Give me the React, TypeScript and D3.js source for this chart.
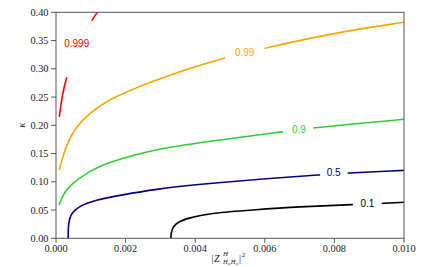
import React from 'react';
import * as d3 from 'd3';

// contour levels, drawn from the outermost to the innermost
const levels = ['0.999', '0.99', '0.9', '0.5', '0.1'];
const colors = ['red', 'orange', 'limegreen', 'navy', 'black'];

// points: x = |Z|^2, y = kappa
const xs999 = [0.000095, 0.00031, 0.00103, 0.00119];
const ys999 = [0.215, 0.285, 0.385, 0.4];

const xs99 = [0.000095, 0.000287, 0.000575, 0.000957, 0.001437, 0.001917, 0.002874, 0.00431, 0.006, 0.00845, 0.01];
const ys99 = [0.1209, 0.1651, 0.1975, 0.2212, 0.2418, 0.2566, 0.2802, 0.3108, 0.3373, 0.3687, 0.3823];

const xs9 = [0.000086, 0.00026, 0.0006, 0.00093, 0.00144, 0.00287, 0.00431, 0.00652, 0.00739, 0.01];
const ys9 = [0.059, 0.0855, 0.1032, 0.117, 0.1336, 0.1583, 0.171, 0.1887, 0.1957, 0.2106];

const xs5 = [0.00035, 0.00035, 0.00036, 0.00039, 0.00045, 0.00064, 0.00112, 0.00189, 0.00284, 0.00414, 0.00759, 0.01];
const ys5 = [0, 0.012, 0.024, 0.035, 0.0442, 0.056, 0.0678, 0.0766, 0.0867, 0.096, 0.1133, 0.1203];

const xs1 = [0.0033, 0.00331, 0.00336, 0.00348, 0.0038, 0.0045, 0.0056, 0.007, 0.0085, 0.01];
const ys1 = [0, 0.01, 0.02, 0.028, 0.036, 0.045, 0.05, 0.056, 0.0595, 0.0637];

const curveXs = [xs999, xs99, xs9, xs5, xs1];
const curveYs = [ys999, ys99, ys9, ys5, ys1];

// inline label positions and the stretch of each contour hidden behind its label
const labelX = [0.000595, 0.00542, 0.00698, 0.00798, 0.00895];
const labelY = [0.3446, 0.3294, 0.193, 0.1165, 0.0612];
const gapAxis = ['y', 'x', 'x', 'x', 'x'];
const gapLo = [0.285, 0.00486, 0.00653, 0.00759, 0.00853];
const gapHi = [0.385, 0.00599, 0.00739, 0.00838, 0.00936];

const xTicks = [0, 0.002, 0.004, 0.006, 0.008, 0.01];
const yTicks = [0, 0.05, 0.1, 0.15, 0.2, 0.25, 0.3, 0.35, 0.4];

const W = 425;
const H = 267;
const left = 56;
const right = 404;
const top = 12.3;
const bottom = 238.3;

const serif = '"Liberation Serif", "DejaVu Serif", serif';
const sans = '"Liberation Sans", Arial, sans-serif';

const App = () => {
  const x = d3.scaleLinear().domain([0, 0.01]).range([left, right]);
  const y = d3.scaleLinear().domain([0, 0.4]).range([bottom, top]);

  const lineFor = (i: number) =>
    d3
      .line<[number, number]>()
      .x((d) => x(d[0]))
      .y((d) => y(d[1]))
      // the short red pieces pass through their read points, the rest are smoothed
      .curve(i === 0 ? d3.curveCatmullRom.alpha(0.5) : d3.curveBasis);

  return (
    <svg width={W} height={H} style={{ position: 'absolute', left: 0, top: 0, background: '#fff' }}>
      <defs>
        <clipPath id="plot">
          <rect x={left} y={top} width={right - left} height={bottom - top} />
        </clipPath>
        {levels.map((lv, i) => (
          <mask key={lv} id={`gap${i}`} maskUnits="userSpaceOnUse" x={0} y={0} width={W} height={H}>
            <rect x={0} y={0} width={W} height={H} fill="#fff" />
            {gapAxis[i] === 'x' ? (
              <rect x={x(gapLo[i])} y={0} width={x(gapHi[i]) - x(gapLo[i])} height={H} fill="#000" />
            ) : (
              <rect x={0} y={y(gapHi[i])} width={W} height={y(gapLo[i]) - y(gapHi[i])} fill="#000" />
            )}
          </mask>
        ))}
      </defs>

      <g clipPath="url(#plot)">
        {levels.map((lv, i) => (
          <path
            key={lv}
            d={lineFor(i)(curveXs[i].map((v, j) => [v, curveYs[i][j]] as [number, number])) || ''}
            fill="none"
            stroke={colors[i]}
            strokeWidth={1.6}
            mask={`url(#gap${i})`}
          />
        ))}
      </g>

      {levels.map((lv, i) => (
        <text
          key={lv}
          x={x(labelX[i])}
          y={y(labelY[i]) + 3.6}
          textAnchor="middle"
          fontFamily={sans}
          fontSize={10}
          fill={colors[i]}
        >
          {lv}
        </text>
      ))}

      <rect x={left} y={top} width={right - left} height={bottom - top} fill="none" stroke="#555" strokeWidth={1} />

      {xTicks.map((t) => (
        <g key={t}>
          <line x1={x(t)} x2={x(t)} y1={bottom} y2={bottom + 4.5} stroke="#555" />
          <text x={x(t)} y={251.7} textAnchor="middle" fontFamily={serif} fontSize={10.3} fill="#222">
            {t.toFixed(3)}
          </text>
        </g>
      ))}
      {yTicks.map((t) => (
        <g key={t}>
          <line x1={left - 5} x2={left} y1={y(t)} y2={y(t)} stroke="#555" />
          <text x={48.5} y={y(t) + 3.6} textAnchor="end" fontFamily={serif} fontSize={10.3} fill="#222">
            {t.toFixed(2)}
          </text>
        </g>
      ))}

      <text
        transform="translate(25,125) rotate(-90)"
        textAnchor="middle"
        fontFamily={serif}
        fontStyle="italic"
        fontSize={10}
        fill="#222"
      >
        κ
      </text>

      <g transform="translate(211.5,261.5)" fontFamily={serif} fill="#222">
        <text x={0} y={0} fontSize={10}>|</text>
        <text x={2.5} y={0} fontSize={10} fontStyle="italic">Z</text>
        <text x={11.5} y={-6} fontSize={7} fontStyle="italic">H</text>
        <text x={11.5} y={2.5} fontSize={6.5} fontStyle="italic">H</text>
        <text x={16.5} y={3.5} fontSize={4.5} fontStyle="italic">u</text>
        <text x={19.3} y={2.5} fontSize={6.5} fontStyle="italic">H</text>
        <text x={24.3} y={3.5} fontSize={4.5} fontStyle="italic">u</text>
        <text x={27.5} y={0} fontSize={10}>|</text>
        <text x={30.2} y={-4.5} fontSize={7}>2</text>
      </g>
    </svg>
  );
};

export default App;
